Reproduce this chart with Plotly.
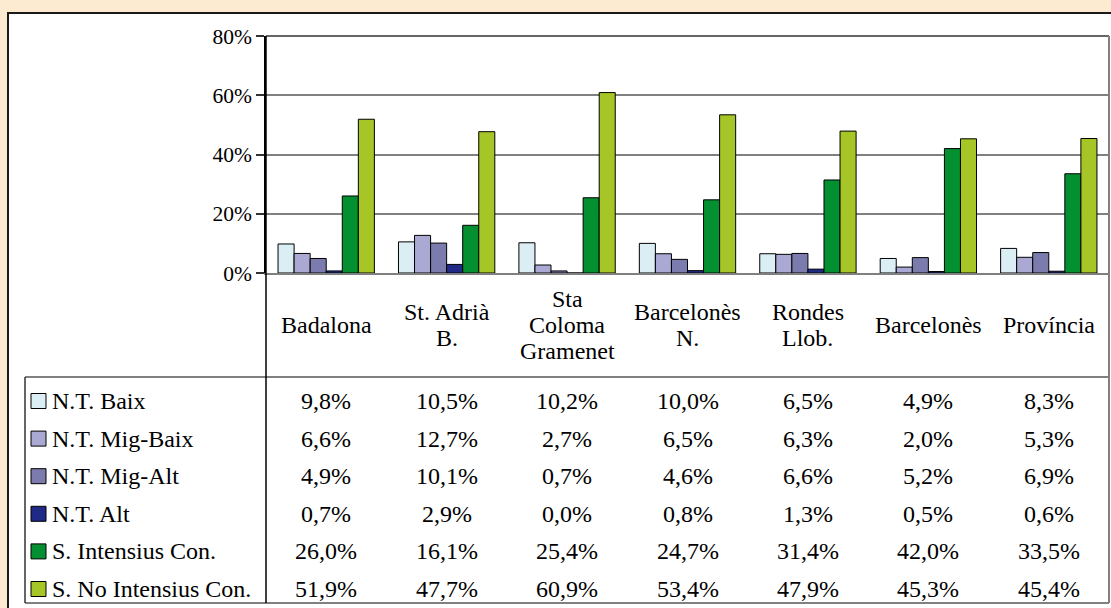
import plotly.graph_objects as go

W, H = 1111, 608

categories = ['Badalona', 'St. Adrià B.', 'Sta Coloma Gramenet', 'Barcelonès N.',
              'Rondes Llob.', 'Barcelonès', 'Província']
category_labels = ['Badalona', 'St. Adrià<br>B.', 'Sta<br>Coloma<br>Gramenet', 'Barcelonès<br>N.',
                   'Rondes<br>Llob.', 'Barcelonès', 'Província']

series_names = ['N.T. Baix', 'N.T. Mig-Baix', 'N.T. Mig-Alt', 'N.T. Alt',
                'S. Intensius Con.', 'S. No Intensius Con.']

nt_baix = [9.8, 10.5, 10.2, 10.0, 6.5, 4.9, 8.3]
nt_mig_baix = [6.6, 12.7, 2.7, 6.5, 6.3, 2.0, 5.3]
nt_mig_alt = [4.9, 10.1, 0.7, 4.6, 6.6, 5.2, 6.9]
nt_alt = [0.7, 2.9, 0.0, 0.8, 1.3, 0.5, 0.6]
s_intensius = [26.0, 16.1, 25.4, 24.7, 31.4, 42.0, 33.5]
s_no_intensius = [51.9, 47.7, 60.9, 53.4, 47.9, 45.3, 45.4]

series_values = [nt_baix, nt_mig_baix, nt_mig_alt, nt_alt, s_intensius, s_no_intensius]
series_colors = ['#DAEEF3', '#A9A9D4', '#7B7BAD', '#1F2A87', '#048F30', '#A6C627']

y_ticks = [0, 20, 40, 60, 80]
y_tick_labels = ['0%', '20%', '40%', '60%', '80%']


def px_x(x):
    return x / W


def px_y(y):
    return 1 - y / H


FONT = 'Liberation Serif, Times New Roman, serif'
TXT = 24

fig = go.Figure()
for name, vals, color in zip(series_names, series_values, series_colors):
    fig.add_trace(go.Bar(
        x=categories,
        y=vals,
        name=name,
        marker=dict(color=color, line=dict(color='black', width=1)),
        showlegend=False,
        hoverinfo='skip',
    ))

# plot area in pixels
pl, pr, pt, pb = 266, 1109, 36, 273
table_top, table_bot, table_left = 377, 603, 25

shapes = [
    # white panel
    dict(type='rect', xref='paper', yref='paper', x0=px_x(8), x1=px_x(1130), y0=px_y(13), y1=px_y(640),
         fillcolor='white', line=dict(color='#1a1a1a', width=2), layer='below'),
    # top border of plot area
    dict(type='line', xref='paper', yref='paper', x0=px_x(pl), x1=px_x(pr), y0=px_y(pt), y1=px_y(pt),
         line=dict(color='#333333', width=1.5)),
    # right edge
    dict(type='line', xref='paper', yref='paper', x0=px_x(pr), x1=px_x(pr), y0=px_y(pt), y1=px_y(table_bot),
         line=dict(color='#808080', width=2)),
    # table horizontal lines
    dict(type='line', xref='paper', yref='paper', x0=px_x(table_left), x1=px_x(pr), y0=px_y(table_top), y1=px_y(table_top),
         line=dict(color='#808080', width=2)),
    dict(type='line', xref='paper', yref='paper', x0=px_x(table_left), x1=px_x(pr), y0=px_y(table_bot), y1=px_y(table_bot),
         line=dict(color='#808080', width=2)),
    # table left border
    dict(type='line', xref='paper', yref='paper', x0=px_x(table_left), x1=px_x(table_left), y0=px_y(table_top), y1=px_y(table_bot),
         line=dict(color='#333333', width=1.5)),
    # vertical line at value axis, down through table
    dict(type='line', xref='paper', yref='paper', x0=px_x(pl), x1=px_x(pl), y0=px_y(pt), y1=px_y(table_bot),
         line=dict(color='black', width=1.5)),
]

annotations = []
# category labels, one annotation per line for Excel-like line spacing
line_gap = 26
for cat, lab in zip(categories, category_labels):
    parts = lab.split('<br>')
    for k, part in enumerate(parts):
        yc = 325 + line_gap * (k - (len(parts) - 1) / 2)
        annotations.append(dict(x=cat, xref='x', y=px_y(yc), yref='paper', text=part, showarrow=False,
                                xanchor='center', yanchor='middle', font=dict(family=FONT, size=TXT, color='black')))

row_h = 37.6
row0 = 401
for i, (name, vals, color) in enumerate(zip(series_names, series_values, series_colors)):
    yc = row0 + i * row_h
    shapes.append(dict(type='rect', xref='paper', yref='paper', x0=px_x(31), x1=px_x(46),
                       y0=px_y(yc - 7.5), y1=px_y(yc + 7.5), fillcolor=color, line=dict(color='black', width=1)))
    annotations.append(dict(x=px_x(50), xref='paper', y=px_y(yc), yref='paper', text=name, showarrow=False,
                            xanchor='left', yanchor='middle', font=dict(family=FONT, size=TXT, color='black')))
    for cat, v in zip(categories, vals):
        annotations.append(dict(x=cat, xref='x', y=px_y(yc), yref='paper',
                                text=f'{v:.1f}'.replace('.', ',') + '%', showarrow=False,
                                xanchor='center', yanchor='middle', font=dict(family=FONT, size=TXT, color='black')))

fig.update_layout(
    width=W, height=H,
    autosize=False,
    margin=dict(l=0, r=0, t=0, b=0, pad=0, autoexpand=False),
    paper_bgcolor='#FCEBD0',
    plot_bgcolor='white',
    barmode='group',
    bargap=0.2,
    bargroupgap=0,
    font=dict(family=FONT, size=20, color='black'),
    xaxis=dict(domain=[px_x(pl), px_x(pr)], showticklabels=False, showgrid=False, zeroline=False,
               showline=True, linecolor='#808080', linewidth=2, ticks='', fixedrange=True, automargin=False),
    yaxis=dict(domain=[px_y(pb), px_y(pt)], range=[0, 80], tickmode='array',
               tickvals=y_ticks, ticktext=y_tick_labels,
               showgrid=True, gridcolor='#808080', gridwidth=1.5, zeroline=False,
               showline=True, linecolor='black', linewidth=1.5,
               ticks='outside', ticklen=8, tickcolor='#333333', tickwidth=1.5,
               tickfont=dict(family=FONT, size=21.5, color='black'), fixedrange=True, automargin=False),
    shapes=shapes,
    annotations=annotations,
)

fig.write_html(
    'out.html',
    config={'displayModeBar': False},
    post_script="document.body.style.margin='0';",
)
